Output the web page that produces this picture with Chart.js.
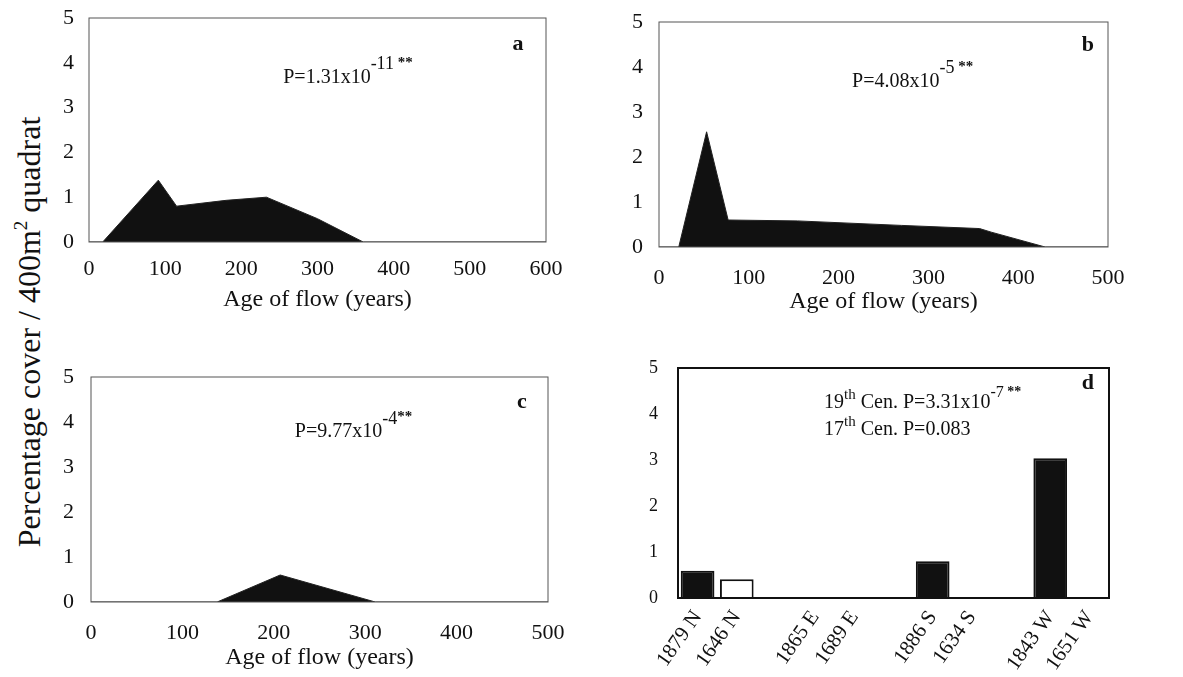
<!DOCTYPE html>
<html lang="en">
<head>
  <meta charset="UTF-8">
  <title>Percentage cover by age of flow</title>
  <script src="https://cdn.jsdelivr.net/npm/chart.js"></script>
  <style>
    body {
      margin: 0;
      background: #fff;
      font-family: "Liberation Serif", serif;
    }
    #page {
      position: relative;
      width: 1183px;
      height: 677px;
      overflow: hidden;
    }
    .panel {
      position: absolute;
    }
    #yTitle {
      position: absolute;
      left: 29px;
      top: 332px;
      transform: translate(-50%, -50%) rotate(-90deg);
      font-size: 32px;
      line-height: 36px;
      white-space: nowrap;
      color: #111;
    }
    #yTitle sup {
      font-size: 19px;
      line-height: 0;
      vertical-align: 0.7em;
    }
  </style>
</head>
<body>
  <div id="page">
    <div id="yTitle">Percentage cover / 400m<sup>2</sup> quadrat</div>
    <canvas id="chartA" class="panel" width="540" height="320" style="left:40px;top:0px"></canvas>
    <canvas id="chartB" class="panel" width="540" height="320" style="left:600px;top:0px"></canvas>
    <canvas id="chartC" class="panel" width="540" height="337" style="left:40px;top:340px"></canvas>
    <canvas id="chartD" class="panel" width="540" height="337" style="left:600px;top:340px"></canvas>
  </div>

  <script>
    // values
    const ageA = [0, 18, 91, 115, 180, 233, 300, 360, 600];
    const coverA = [0, 0, 1.38, 0.8, 0.93, 1.0, 0.52, 0, 0];

    const ageB = [0, 22, 53, 77, 154, 270, 357, 370, 430, 500];
    const coverB = [0, 0, 2.56, 0.6, 0.58, 0.48, 0.41, 0.33, 0, 0];

    const ageC = [0, 138, 207, 311, 500];
    const coverC = [0, 0, 0.6, 0, 0];

    const flows = ["1879 N", "1646 N", "", "1865 E", "1689 E", "", "1886 S", "1634 S", "", "1843 W", "1651 W"];
    const coverD = [0.59, 0.41, null, 0, 0, null, 0.8, 0, null, 3.04, 0];

    const FONT = "Liberation Serif";
    const INK = "#111";

    // frame, panel letter and P-value notes
    const panelDecor = {
      id: "panelDecor",
      afterDatasetsDraw(chart, args, opts) {
        const { ctx, chartArea: a } = chart;
        const w = a.right - a.left, h = a.bottom - a.top;
        ctx.save();
        ctx.strokeStyle = opts.frameColor;
        ctx.lineWidth = opts.frameWidth;
        ctx.strokeRect(a.left, a.top, w, h);

        ctx.fillStyle = INK;
        ctx.font = "bold 22px '" + FONT + "'";
        ctx.textAlign = "center";
        ctx.textBaseline = "middle";
        ctx.fillText(opts.letter, a.left + opts.letterAt[0] * w, a.top + opts.letterAt[1] * h);

        ctx.textAlign = "left";
        ctx.textBaseline = "alphabetic";
        opts.lines.forEach(line => {
          let x = a.left + line.at[0] * w;
          const y = a.top + line.at[1] * h;
          line.runs.forEach(r => {
            ctx.font = (r.bold ? "bold " : "") + r.size + "px '" + FONT + "'";
            ctx.fillText(r.text, x, y - (r.rise || 0));
            x += ctx.measureText(r.text).width;
          });
        });
        ctx.restore();
      }
    };

    function areaChart(id, ages, cover, xMax, box, decor) {
      return new Chart(document.getElementById(id), {
        type: "line",
        data: {
          datasets: [{
            data: ages.map((a, i) => ({ x: a, y: cover[i] })),
            borderColor: "#222",
            borderWidth: 1,
            backgroundColor: INK,
            fill: "origin",
            pointRadius: 0,
            tension: 0
          }]
        },
        options: {
          responsive: false,
          animation: false,
          layout: { padding: { left: 0, top: box.top, right: box.right, bottom: 0 } },
          plugins: { legend: { display: false }, tooltip: { enabled: false }, panelDecor: decor },
          scales: {
            x: {
              type: "linear",
              min: 0,
              max: xMax,
              grid: { display: false },
              border: { display: false },
              ticks: { stepSize: 100, padding: box.xPad, color: INK, font: { family: FONT, size: 22 } },
              title: {
                display: true,
                text: "Age of flow (years)",
                color: INK,
                font: { family: FONT, size: 24 },
                padding: { top: 0, bottom: box.titlePad }
              },
              afterFit(s) { s.height = box.xHeight; }
            },
            y: {
              min: 0,
              max: 5,
              grid: { display: false },
              border: { display: false },
              ticks: { stepSize: 1, padding: box.yPad, color: INK, font: { family: FONT, size: 22, lineHeight: 1 } },
              afterFit(s) { s.width = box.yWidth; }
            }
          }
        },
        plugins: [panelDecor]
      });
    }

    areaChart("chartA", ageA, coverA, 600,
      { top: 17, right: 34, yWidth: 49, xHeight: 78, yPad: 7, xPad: 6, titlePad: 6 },
      {
        frameColor: "#555", frameWidth: 1, letter: "a", letterAt: [0.939, 0.116],
        lines: [{ at: [0.425, 0.289], runs: [
          { text: "P=1.31x10", size: 20 },
          { text: "-11", size: 18, rise: 14 },
          { text: " **", size: 15, rise: 16, bold: true }
        ] }]
      });

    areaChart("chartB", ageB, coverB, 500,
      { top: 22, right: 32, yWidth: 59, xHeight: 73, yPad: 8, xPad: 10, titlePad: 4 },
      {
        frameColor: "#555", frameWidth: 1, letter: "b", letterAt: [0.955, 0.102],
        lines: [{ at: [0.43, 0.289], runs: [
          { text: "P=4.08x10", size: 20 },
          { text: "-5", size: 18, rise: 14 },
          { text: " **", size: 15, rise: 16, bold: true }
        ] }]
      });

    areaChart("chartC", ageC, coverC, 500,
      { top: 37, right: 32, yWidth: 51, xHeight: 75, yPad: 9, xPad: 10, titlePad: 5 },
      {
        frameColor: "#555", frameWidth: 1, letter: "c", letterAt: [0.943, 0.111],
        lines: [{ at: [0.446, 0.267], runs: [
          { text: "P=9.77x10", size: 20 },
          { text: "-4", size: 18, rise: 13 },
          { text: "**", size: 15, rise: 16, bold: true }
        ] }]
      });

    // bar panel: 19th century flows black, 17th century flows white
    new Chart(document.getElementById("chartD"), {
      type: "bar",
      data: {
        labels: flows,
        datasets: [{
          data: coverD,
          backgroundColor: flows.map(f => parseInt(f, 10) < 1800 ? "#fff" : INK),
          borderColor: INK,
          borderWidth: 2,
          borderSkipped: "bottom",
          barPercentage: 0.86,
          categoryPercentage: 1
        }]
      },
      options: {
        responsive: false,
        animation: false,
        layout: { padding: { left: 0, top: 28, right: 31, bottom: 0 } },
        plugins: {
          legend: { display: false },
          tooltip: { enabled: false },
          panelDecor: {
            frameColor: INK, frameWidth: 2, letter: "d", letterAt: [0.951, 0.065],
            lines: [
              { at: [0.339, 0.174], runs: [
                { text: "19", size: 20 },
                { text: "th", size: 15, rise: 9 },
                { text: " Cen. P=3.31x10", size: 20 },
                { text: "-7", size: 16, rise: 11 },
                { text: " **", size: 14, rise: 12, bold: true }
              ] },
              { at: [0.339, 0.291], runs: [
                { text: "17", size: 20 },
                { text: "th", size: 15, rise: 9 },
                { text: " Cen. P=0.083", size: 20 }
              ] }
            ]
          }
        },
        scales: {
          x: {
            grid: { display: false },
            border: { display: false },
            ticks: { autoSkip: false, minRotation: 55, maxRotation: 55, padding: 0, color: INK, font: { family: FONT, size: 21 } },
            afterFit(s) { s.height = 79; }
          },
          y: {
            min: 0,
            max: 5,
            grid: { display: false },
            border: { display: false },
            ticks: { stepSize: 1, padding: 12, color: INK, font: { family: FONT, size: 18 } },
            afterFit(s) { s.width = 78; }
          }
        }
      },
      plugins: [panelDecor]
    });
  </script>
</body>
</html>
